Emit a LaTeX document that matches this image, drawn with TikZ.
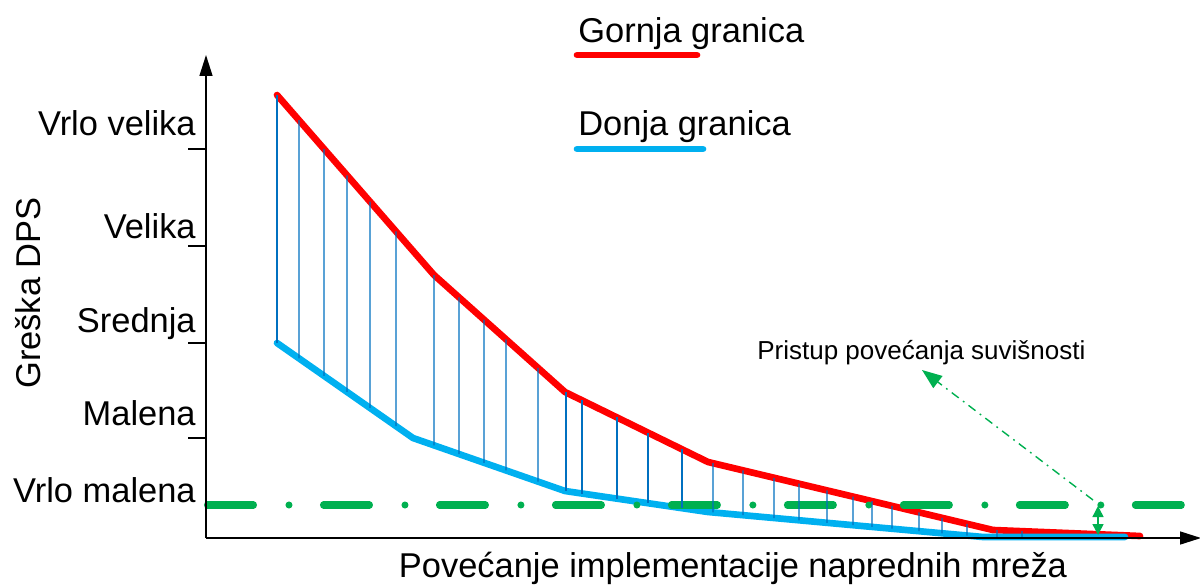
\documentclass[tikz,border=0pt]{standalone}
\usepackage{fontspec}
\setmainfont{Liberation Sans}
\usetikzlibrary{arrows.meta, intersections}
\definecolor{gornjared}{RGB}{255,0,0}
\definecolor{donjablue}{RGB}{0,176,240}
\definecolor{hatchblue}{RGB}{0,112,192}
\definecolor{guidegreen}{RGB}{0,176,80}

\begin{document}
\begin{tikzpicture}[x=0.02cm, y=-0.02cm,
    bigtext/.style={font=\fontsize{19.6}{23}\selectfont, inner sep=0pt},
    level/.style={bigtext, anchor=base east},
    upperline/.style={gornjared, line width=3.8pt, line cap=round, line join=round},
    lowerline/.style={donjablue, line width=3.8pt, line cap=round, line join=round},
    hatchline/.style={hatchblue, line width=0.8pt},
    axisline/.style={black, line width=0.85pt, -{Triangle[length=0.42cm, width=0.26cm]}}]
    \useasboundingbox (0,0) rectangle (1200,585);
    % Bounds
    \draw[upperline, name path=upper] (277,95) -- (434,275) -- (565,392) -- (708,462) -- (993,530) -- (1140,536);
    \draw[lowerline, name path=lower] (277,343) -- (413,438) -- (565,491) -- (708,512) -- (983,537) -- (1125,537);
    % Threshold
    \draw[guidegreen, line width=4pt, line cap=round,
        dash pattern=on 0.92cm off 0.71cm on 0cm off 0.69cm] (207.5,505) -- (1181.5,505);
    % Hatching between bounds
    \foreach \x in {277,299,324,347,370,396,434,459,484,506,538,566,582,617,648,682,713,743,774,799,827,853,872,892,919,942,967,997,1022} {
        \path[name path=vert] (\x,60) -- (\x,560);
        \draw[hatchline, name intersections={of=upper and vert, name=up},
            name intersections={of=lower and vert, name=lo}] (up-1) -- (lo-1);
    }
    % Axes
    \coordinate (origin) at (206,538);
    \coordinate (ytop) at (206,55);
    \coordinate (xend) at (1201,538);
    \draw[axisline] (origin) -- (ytop);
    \draw[axisline] (origin) -- (xend);
    \foreach \y in {149,246,343,438}
        \draw[black, line width=0.85pt] (188,\y) -- (206,\y);
    % Levels
    \node[level] (vvelika) at (196,135) {Vrlo velika};
    \node[level] (velika) at (196,238) {Velika};
    \node[level] (srednja) at (196,332) {Srednja};
    \node[level] (malena) at (196,425) {Malena};
    \node[level] (vmalena) at (196,502) {Vrlo malena};
    \node[bigtext, rotate=90] (ylabel) at (28,293) {Greška DPS};
    \node[bigtext, anchor=base] (xlabel) at (733,577) {Povećanje implementacije naprednih mreža};
    % Legend
    \node[bigtext, anchor=base west] (gornja) at (578,42) {Gornja granica};
    \node[bigtext, anchor=base west] (donja) at (578,135) {Donja granica};
    \draw[upperline] (577,55) -- (697,55);
    \draw[lowerline] (577,149) -- (703,149);
    % Annotation
    \node[font=\fontsize{14.8}{17}\selectfont, inner sep=0pt, anchor=base west] (pristup) at (757,359) {Pristup povećanja suvišnosti};
    \coordinate (gapmark) at (1093,500);
    \coordinate (pointer) at (922,370);
    \draw[guidegreen, line width=0.8pt, dash pattern=on 5pt off 3pt on 1pt off 3pt,
        -{Triangle[length=0.4cm, width=0.3cm]}] (gapmark) -- (pointer);
    \coordinate (gaptop) at (1098,506);
    \coordinate (gapbot) at (1098,535);
    \draw[guidegreen, line width=0.8pt, {Triangle[length=0.22cm, width=0.22cm]}-{Triangle[length=0.22cm, width=0.22cm]}] (gaptop) -- (gapbot);
\end{tikzpicture}
\end{document}
